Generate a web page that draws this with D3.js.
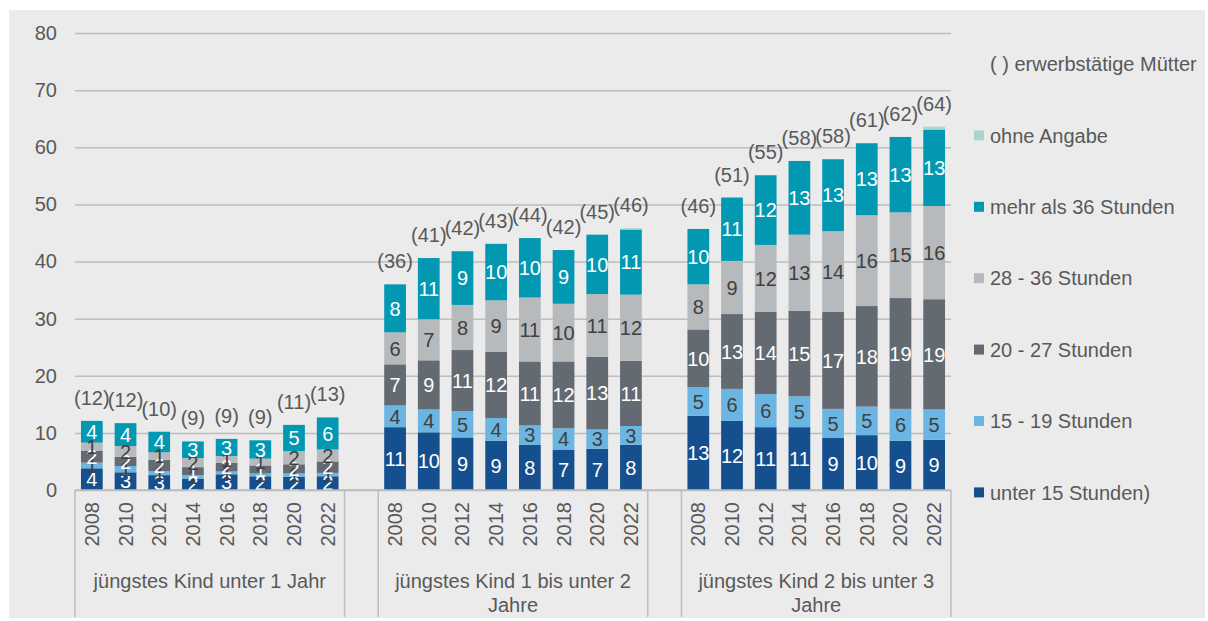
<!DOCTYPE html>
<html>
<head>
<meta charset="utf-8">
<script src="https://cdn.jsdelivr.net/npm/d3@7"></script>
<style>
  body { margin: 0; background: #ffffff; }
  svg { display: block; font-family: "Liberation Sans", Arial, sans-serif; }
</style>
</head>
<body>
<svg id="chart" width="1208" height="621"></svg>
<script>
/* ---- data ---- */
// three groups of eight survey years each
var groupLabels = [
    ["jüngstes Kind unter 1 Jahr"],
    ["jüngstes Kind 1 bis unter 2", "Jahre"],
    ["jüngstes Kind 2 bis unter 3", "Jahre"]
];
var years = ["2008", "2010", "2012", "2014", "2016", "2018", "2020", "2022"];

// series values (in 1000), group 1 | group 2 | group 3
var unter15 = [3.8, 3.1, 2.6, 2.0, 2.75, 2.4, 2.3, 2.4,
               11.0, 10.1, 9.2, 8.6, 7.9, 7.0, 7.2, 7.9,
               13.0, 12.1, 11.0, 11.0, 9.1, 9.6, 8.6, 8.8];
var h15bis19 = [1.0, 1.1, 0.7, 0.6, 0.5, 0.5, 0.6, 0.6,
                3.8, 4.0, 4.6, 4.0, 3.4, 3.8, 3.4, 3.3,
                5.0, 5.6, 5.8, 5.4, 5.1, 5.0, 5.6, 5.3];
var h20bis27 = [2.1, 1.6, 2.0, 1.4, 1.5, 1.4, 1.6, 2.0,
                7.2, 8.6, 10.7, 11.6, 11.2, 11.7, 12.7, 11.4,
                10.1, 13.1, 14.4, 15.0, 17.0, 17.6, 19.4, 19.3];
var h28bis36 = [1.4, 1.9, 1.3, 1.6, 1.2, 1.2, 2.3, 2.1,
                5.6, 7.2, 7.9, 9.0, 11.2, 10.1, 11.0, 11.6,
                7.9, 9.3, 11.7, 13.3, 14.1, 15.9, 15.0, 16.3];
var mehr36 = [3.8, 4.0, 3.6, 2.9, 3.0, 3.2, 4.6, 5.6,
              8.4, 10.7, 9.4, 9.9, 10.4, 9.4, 10.4, 11.4,
              9.7, 11.1, 12.2, 12.9, 12.6, 12.6, 13.2, 13.4];
var ohneAngabe = [0, 0, 0, 0, 0, 0, 0, 0,
                  0, 0, 0, 0, 0, 0, 0, 0.2,
                  0, 0, 0, 0, 0, 0, 0, 0.5];
// erwerbstätige Mütter, printed in brackets
var totals = [12, 12, 10, 9, 9, 9, 11, 13,
              36, 41, 42, 43, 44, 42, 45, 46,
              46, 51, 55, 58, 58, 61, 62, 64];

var yTicks = [0, 10, 20, 30, 40, 50, 60, 70, 80];

var seriesKeys = ["unter15", "h15bis19", "h20bis27", "h28bis36", "mehr36", "ohne"];
var seriesNames = ["unter 15 Stunden)", "15 - 19 Stunden", "20 - 27 Stunden",
                   "28 - 36 Stunden", "mehr als 36 Stunden", "ohne Angabe"];
var seriesColors = ["#164f8d", "#6ab5e1", "#636a72", "#b6babd", "#0298b2", "#a6d6cc"];
var labelColors = ["#ffffff", "#404040", "#ffffff", "#404040", "#ffffff", null];

/* ---- layout ---- */
var svg = d3.select("#chart");
var plotLeft = 75, plotRight = 951, plotTop = 33, plotBottom = 490;
var textColor = "#595959";

// panel background
svg.append("rect")
    .attr("x", 9).attr("y", 10)
    .attr("width", 1196).attr("height", 608)
    .attr("fill", "#ebebeb");

// build the category slots, with one empty slot between groups
var keys = [];
var rows = [];
groupLabels.forEach(function(g, gi) {
    if (gi > 0) keys.push("gap" + gi);
    years.forEach(function(yr, i) {
        var idx = gi * years.length + i;
        var key = gi + "-" + yr;
        keys.push(key);
        rows.push({
            key: key, year: yr, total: totals[idx],
            unter15: unter15[idx], h15bis19: h15bis19[idx], h20bis27: h20bis27[idx],
            h28bis36: h28bis36[idx], mehr36: mehr36[idx], ohne: ohneAngabe[idx]
        });
    });
});

var x = d3.scaleBand()
    .domain(keys)
    .range([plotLeft, plotRight])
    .paddingInner(0.355)
    .paddingOuter(0.1775);

var y = d3.scaleLinear()
    .domain([0, 80])
    .range([plotBottom, plotTop]);

// y axis with gridlines
var yAxis = svg.append("g")
    .attr("transform", "translate(" + plotLeft + ",0)")
    .call(d3.axisLeft(y).tickValues(yTicks).tickSize(-(plotRight - plotLeft)).tickPadding(18));
yAxis.select(".domain").remove();
yAxis.selectAll("line").attr("stroke", "#bdbdbd").attr("stroke-width", 1.5);
yAxis.selectAll("text")
    .attr("fill", textColor)
    .style("font-size", "20px")
    .style("font-family", "Liberation Sans, Arial, sans-serif");

// stacked bars
var stacked = d3.stack().keys(seriesKeys)(rows);

var layers = svg.selectAll("g.layer")
    .data(stacked)
    .enter()
    .append("g")
    .attr("class", "layer")
    .attr("fill", function(d, i) { return seriesColors[i]; });

layers.selectAll("rect")
    .data(function(d) { return d; })
    .enter()
    .append("rect")
    .attr("x", function(d) { return x(d.data.key); })
    .attr("width", x.bandwidth())
    .attr("y", function(d) { return y(d[1]); })
    .attr("height", function(d) { return y(d[0]) - y(d[1]); });

// segment labels (not for "ohne Angabe")
stacked.forEach(function(layer, i) {
    if (!labelColors[i]) return;
    svg.append("g")
        .selectAll("text")
        .data(layer)
        .enter()
        .append("text")
        .attr("x", function(d) { return x(d.data.key) + x.bandwidth() / 2; })
        .attr("y", function(d) { return (y(d[0]) + y(d[1])) / 2; })
        .attr("dy", "0.36em")
        .attr("text-anchor", "middle")
        .attr("fill", labelColors[i])
        .style("font-size", "20px")
        .text(function(d) { return d3.format(".0f")(d[1] - d[0]); });
});

// totals in brackets above the bars
var topLayer = stacked[stacked.length - 1];
svg.append("g")
    .selectAll("text")
    .data(topLayer)
    .enter()
    .append("text")
    .attr("x", function(d) { return x(d.data.key) + x.bandwidth() / 2; })
    .attr("y", function(d) { return y(d[1]) - 16; })
    .attr("text-anchor", "middle")
    .attr("fill", textColor)
    .style("font-size", "20px")
    .text(function(d) { return "(" + d.data.total + ")"; });

// category axis: baseline, group boxes, years and group names
svg.append("line")
    .attr("x1", plotLeft).attr("x2", plotRight)
    .attr("y1", plotBottom).attr("y2", plotBottom)
    .attr("stroke", "#bdbdbd").attr("stroke-width", 1.5);

var step = x.step();
var slotEdges = [0, 8, 9, 17, 18, 26];
svg.append("g")
    .selectAll("line")
    .data(slotEdges)
    .enter()
    .append("line")
    .attr("x1", function(d) { return plotLeft + d * step; })
    .attr("x2", function(d) { return plotLeft + d * step; })
    .attr("y1", plotBottom).attr("y2", 617)
    .attr("stroke", "#bdbdbd").attr("stroke-width", 1.5);

svg.append("g")
    .selectAll("text")
    .data(rows)
    .enter()
    .append("text")
    .attr("transform", function(d) {
        return "translate(" + (x(d.key) + x.bandwidth() / 2 + 7) + ",502) rotate(-90)";
    })
    .attr("text-anchor", "end")
    .attr("fill", textColor)
    .style("font-size", "20px")
    .text(function(d) { return d.year; });

groupLabels.forEach(function(lines, gi) {
    var x0 = plotLeft + gi * 9 * step;
    var cx = x0 + 4 * step;
    var t = svg.append("text")
        .attr("x", cx)
        .attr("y", 588)
        .attr("text-anchor", "middle")
        .attr("fill", textColor)
        .style("font-size", "20px");
    lines.forEach(function(l, li) {
        t.append("tspan").attr("x", cx).attr("dy", li === 0 ? 0 : 24).text(l);
    });
});

// legend
var legendTop = 64, legendGap = 71.4;
svg.append("text")
    .attr("x", 990).attr("y", legendTop)
    .attr("dy", "0.36em")
    .attr("fill", textColor)
    .style("font-size", "20px")
    .text("( ) erwerbstätige Mütter");

var legendOrder = d3.range(seriesKeys.length).reverse();
var legend = svg.append("g")
    .selectAll("g")
    .data(legendOrder)
    .enter()
    .append("g")
    .attr("transform", function(d, i) {
        return "translate(0," + (legendTop + (i + 1) * legendGap) + ")";
    });
legend.append("rect")
    .attr("x", 974).attr("y", -5)
    .attr("width", 10).attr("height", 10)
    .attr("fill", function(d) { return seriesColors[d]; });
legend.append("text")
    .attr("x", 990)
    .attr("dy", "0.36em")
    .attr("fill", textColor)
    .style("font-size", "20px")
    .text(function(d) { return seriesNames[d]; });
</script>
</body>
</html>
